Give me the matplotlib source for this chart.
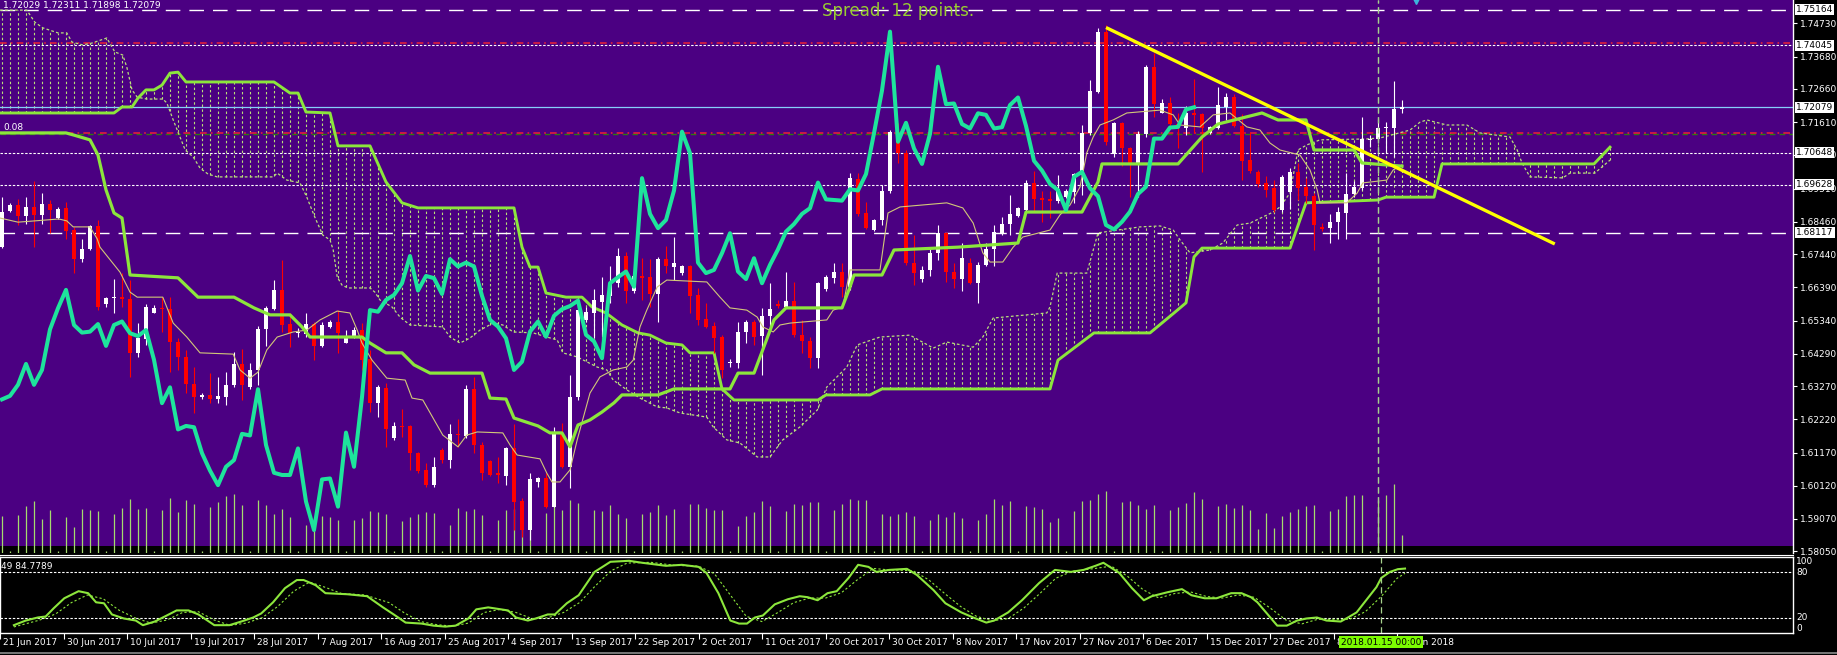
import numpy as np
import matplotlib
matplotlib.use("Agg")
import matplotlib.pyplot as plt
from matplotlib.lines import Line2D
from matplotlib.transforms import blended_transform_factory

# ---- daily bars, index 0 = 30 Jun 2017 (bars -6 .. 169) ----
first_bar = -6
opens = [
    1.6768, 1.6881, 1.6899, 1.6866, 1.6892, 1.6868,
    1.6902, 1.6857, 1.6889, 1.6820, 1.6728, 1.6759,
    1.6833, 1.6586, 1.6604, 1.6610, 1.6601, 1.6433,
    1.6475, 1.6559, 1.6575, 1.6570, 1.6467, 1.6418,
    1.6333, 1.6292, 1.6299, 1.6287, 1.6294, 1.6331,
    1.6397, 1.6323, 1.6378, 1.6506, 1.6570, 1.6631,
    1.6523, 1.6494, 1.6492, 1.6523, 1.6454, 1.6515,
    1.6531, 1.6464, 1.6483, 1.6504, 1.6412, 1.6273,
    1.6320, 1.6162, 1.6201, 1.6201, 1.6114, 1.6062,
    1.6014, 1.6125, 1.6093, 1.6176, 1.6169, 1.6317,
    1.6141, 1.6090, 1.6051, 1.6043, 1.6130, 1.5965,
    1.5872, 1.6025, 1.6035, 1.5946, 1.6180, 1.6071,
    1.6293, 1.6536, 1.6559, 1.6594, 1.6612, 1.6652,
    1.6738, 1.6629, 1.6675, 1.6671, 1.6618, 1.6728,
    1.6702, 1.6684, 1.6707, 1.6614, 1.6538, 1.6517,
    1.6483, 1.6399, 1.6401, 1.6499, 1.6531, 1.6485,
    1.6547, 1.6587, 1.6578, 1.6597, 1.6489, 1.6471,
    1.6415, 1.6633, 1.6668, 1.6689, 1.6641, 1.6981,
    1.6873, 1.6820, 1.6852, 1.6945, 1.7131, 1.7065,
    1.6717, 1.6665, 1.6694, 1.6747, 1.6810, 1.6689,
    1.6665, 1.6717, 1.6652, 1.6710, 1.6759, 1.6812,
    1.6839, 1.6864, 1.6883, 1.6970, 1.6920, 1.6917,
    1.6913, 1.6926, 1.6941, 1.6994, 1.7126, 1.7257,
    1.7447, 1.7060, 1.7157, 1.7078, 1.7029, 1.7124,
    1.7336, 1.7191, 1.7220, 1.7155, 1.7141, 1.7189,
    1.7187, 1.7126, 1.7141, 1.7210, 1.7242, 1.7149,
    1.7041, 1.7005, 1.6970, 1.6952, 1.6883, 1.6941,
    1.7004, 1.6955, 1.6927, 1.6830, 1.6825, 1.6846,
    1.6875, 1.6934, 1.6952, 1.7104, 1.7109, 1.7141,
    1.7144, 1.72029,
]
highs = [
    1.6926, 1.6907, 1.6917, 1.6926, 1.6976, 1.6938,
    1.6915, 1.6892, 1.6910, 1.6831, 1.6791, 1.6836,
    1.6852, 1.6610, 1.6664, 1.6683, 1.6662, 1.6525,
    1.6586, 1.6583, 1.6610, 1.6610, 1.6478, 1.6441,
    1.6388, 1.6306, 1.6367, 1.6355, 1.6373, 1.6436,
    1.6443, 1.6399, 1.6517, 1.6580, 1.6662, 1.6725,
    1.6557, 1.6510, 1.6559, 1.6531, 1.6531, 1.6536,
    1.6568, 1.6504, 1.6515, 1.6525, 1.6441, 1.6331,
    1.6336, 1.6215, 1.6254, 1.6204, 1.6120, 1.6085,
    1.6102, 1.6130, 1.6207, 1.6222, 1.6330, 1.6355,
    1.6151, 1.6093, 1.6104, 1.6136, 1.6207, 1.5972,
    1.6051, 1.6041, 1.6051, 1.6199, 1.6211, 1.6362,
    1.6580, 1.6578, 1.6633, 1.6673, 1.6705, 1.6762,
    1.6752, 1.6684, 1.6731, 1.6728, 1.6734, 1.6770,
    1.6799, 1.6710, 1.6710, 1.6636, 1.6589, 1.6531,
    1.6489, 1.6412, 1.6531, 1.6536, 1.6536, 1.6573,
    1.6652, 1.6599, 1.6689, 1.6657, 1.6536, 1.6483,
    1.6657, 1.6678, 1.6715, 1.6715, 1.7000, 1.7000,
    1.6910, 1.6854, 1.6963, 1.7136, 1.7157, 1.7073,
    1.6805, 1.6705, 1.6759, 1.6836, 1.6815, 1.6715,
    1.6780, 1.6731, 1.6720, 1.6780, 1.6836, 1.6860,
    1.6931, 1.6894, 1.6978, 1.7008, 1.6945, 1.6945,
    1.6994, 1.6949, 1.7001, 1.7152, 1.7294, 1.7457,
    1.7468, 1.7163, 1.7163, 1.7081, 1.7134, 1.7342,
    1.7378, 1.7233, 1.7239, 1.7189, 1.7212, 1.7296,
    1.7191, 1.7149, 1.7271, 1.7252, 1.7250, 1.7187,
    1.7131, 1.7010, 1.6990, 1.6978, 1.6994, 1.7015,
    1.7033, 1.6983, 1.6936, 1.6841, 1.6870, 1.6894,
    1.6999, 1.6976, 1.7178, 1.7120, 1.7170, 1.7162,
    1.7292, 1.72311,
]
lows = [
    1.6762, 1.6878, 1.6836, 1.6839, 1.6766, 1.6839,
    1.6810, 1.6854, 1.6791, 1.6683, 1.6720, 1.6757,
    1.6568, 1.6578, 1.6557, 1.6578, 1.6357, 1.6420,
    1.6457, 1.6557, 1.6499, 1.6373, 1.6378, 1.6304,
    1.6241, 1.6285, 1.6273, 1.6275, 1.6267, 1.6325,
    1.6283, 1.6317, 1.6331, 1.6454, 1.6568, 1.6499,
    1.6452, 1.6481, 1.6483, 1.6410, 1.6452, 1.6510,
    1.6433, 1.6462, 1.6478, 1.6378, 1.6246, 1.6230,
    1.6136, 1.6157, 1.6165, 1.6062, 1.6051, 1.6009,
    1.6009, 1.6085, 1.6067, 1.6136, 1.6162, 1.6114,
    1.6030, 1.6043, 1.6022, 1.6014, 1.5872, 1.5851,
    1.5841, 1.6009, 1.5941, 1.5944, 1.6067, 1.6005,
    1.6283, 1.6531, 1.6478, 1.6483, 1.6589, 1.6641,
    1.6589, 1.6620, 1.6599, 1.6578, 1.6531, 1.6684,
    1.6662, 1.6678, 1.6557, 1.6520, 1.6510, 1.6431,
    1.6352, 1.6386, 1.6383, 1.6462, 1.6457, 1.6362,
    1.6515, 1.6573, 1.6573, 1.6483, 1.6431, 1.6383,
    1.6383, 1.6626, 1.6652, 1.6610, 1.6631, 1.6863,
    1.6823, 1.6818, 1.6836, 1.6938, 1.7031, 1.6710,
    1.6647, 1.6657, 1.6675, 1.6726, 1.6657, 1.6636,
    1.6626, 1.6650, 1.6589, 1.6705, 1.6705, 1.6804,
    1.6804, 1.6862, 1.6881, 1.6878, 1.6847, 1.6857,
    1.6904, 1.6920, 1.6904, 1.6931, 1.7120, 1.7252,
    1.7089, 1.7052, 1.7022, 1.6923, 1.6926, 1.7115,
    1.7178, 1.7189, 1.7145, 1.7078, 1.7120, 1.7126,
    1.7005, 1.7124, 1.7138, 1.7168, 1.7147, 1.6978,
    1.7000, 1.6957, 1.6925, 1.6878, 1.6878, 1.6888,
    1.6915, 1.6904, 1.6757, 1.6818, 1.6778, 1.6793,
    1.6793, 1.6925, 1.6948, 1.7083, 1.7104, 1.7062,
    1.7052, 1.71898,
]
closes = [
    1.6878, 1.6899, 1.6866, 1.6892, 1.6868, 1.6902,
    1.6883, 1.6888, 1.6817, 1.6728, 1.6760, 1.6833,
    1.6578, 1.6604, 1.6610, 1.6601, 1.6433, 1.6478,
    1.6576, 1.6573, 1.6570, 1.6467, 1.6418, 1.6333,
    1.6292, 1.6299, 1.6285, 1.6296, 1.6331, 1.6397,
    1.6331, 1.6378, 1.6506, 1.6573, 1.6631, 1.6520,
    1.6496, 1.6499, 1.6523, 1.6454, 1.6520, 1.6531,
    1.6494, 1.6485, 1.6504, 1.6410, 1.6273, 1.6323,
    1.6190, 1.6201, 1.6197, 1.6115, 1.6060, 1.6014,
    1.6072, 1.6093, 1.6176, 1.6171, 1.6317, 1.6141,
    1.6053, 1.6046, 1.6046, 1.6130, 1.5962, 1.5872,
    1.6032, 1.6035, 1.5946, 1.6180, 1.6072, 1.6292,
    1.6567, 1.6562, 1.6599, 1.6615, 1.6652, 1.6738,
    1.6629, 1.6675, 1.6668, 1.6618, 1.6728, 1.6705,
    1.6717, 1.6705, 1.6612, 1.6536, 1.6515, 1.6478,
    1.6378, 1.6404, 1.6499, 1.6531, 1.6483, 1.6549,
    1.6570, 1.6580, 1.6597, 1.6489, 1.6468, 1.6415,
    1.6652, 1.6671, 1.6689, 1.6641, 1.6984, 1.6871,
    1.6826, 1.6852, 1.6945, 1.7131, 1.7063, 1.6717,
    1.6684, 1.6694, 1.6747, 1.6810, 1.6689, 1.6665,
    1.6731, 1.6652, 1.6710, 1.6759, 1.6815, 1.6839,
    1.6871, 1.6889, 1.6970, 1.6917, 1.6915, 1.6913,
    1.6949, 1.6945, 1.6997, 1.7126, 1.7261, 1.7447,
    1.7099, 1.7159, 1.7078, 1.7029, 1.7124, 1.7336,
    1.7218, 1.7220, 1.7155, 1.7141, 1.7189, 1.7184,
    1.7141, 1.7145, 1.7215, 1.7239, 1.7149, 1.7039,
    1.7008, 1.6966, 1.6946, 1.6883, 1.6988, 1.7004,
    1.6952, 1.6927, 1.6836, 1.6822, 1.6846, 1.6878,
    1.6934, 1.6957, 1.7109, 1.7109, 1.7144, 1.7146,
    1.7201, 1.72079,
]
volumes = [
    37, 2, 38, 47, 52, 34,
    43, 2, 36, 26, 44, 43,
    42, 2, 39, 45, 54, 44,
    45, 2, 43, 55, 41, 53,
    49, 2, 46, 51, 57, 59,
    48, 2, 53, 48, 39, 44,
    36, 2, 28, 35, 37, 36,
    33, 2, 33, 35, 42, 41,
    39, 2, 32, 36, 39, 41,
    40, 2, 28, 45, 42, 44,
    38, 2, 33, 43, 44, 35,
    40, 2, 40, 57, 43, 53,
    50, 2, 43, 42, 48, 39,
    35, 2, 39, 41, 48, 38,
    44, 2, 49, 49, 45, 43,
    43, 2, 27, 37, 41, 52,
    47, 2, 42, 49, 48, 51,
    51, 2, 43, 49, 54, 53,
    53, 2, 39, 37, 39, 41,
    37, 2, 33, 39, 36, 41,
    35, 2, 33, 39, 54, 48,
    52, 2, 47, 46, 44, 31,
    35, 2, 42, 52, 53, 59,
    62, 2, 51, 52, 48, 44,
    48, 2, 43, 46, 50, 61,
    54, 2, 47, 49, 45, 48,
    43, 24, 40, 25, 37, 41,
    44, 47, 48, 2, 42, 44,
    57, 58, 58, 2, 53, 58,
    69, 18,
]

# ---- Ichimoku lines (bar index, price) ----
tenkan_k = [-6.25, -4, -1.9, 1.1, 2.1, 2.9, 5, 5.9, 6.25, 8.75,
            10, 10.9, 14.1, 15.4, 17.1, 18.75, 22.9, 23.75, 25, 26,
            27.1, 28.4, 30.4, 32.1, 33.75, 35.9, 37.5, 38.4, 39, 40.25,
            42.1, 44.4, 45.25, 46.6, 49.1, 51, 52.1, 53.4, 56.6, 57.5,
            58.4, 61.25, 62.1, 62.75, 63.75, 65, 65.9, 67.5, 68.75, 70.4,
            72.1, 72.9, 73.75, 74.6, 75.9, 77.1, 82.1, 83.75, 85, 87.1,
            88.4, 89.1, 90.4, 91.25, 92.5, 97.1, 97.9, 99.1, 100, 103.75,
            104.75, 106.25, 112.1, 114.1, 115.4, 116.6, 117.5, 119.1, 120.4, 121.6,
            125, 126.25, 127.5, 128.75, 129.6, 130.4, 131.25, 132.9, 134.6, 138.75,
            140.4, 141.25, 143.75, 145.4, 147.5, 149.6, 151.25, 152.5, 153.75, 156.25,
            157.5, 158.4, 158.75, 162.1, 163.4, 164.1, 167.1, 167.9, 169]
tenkan_p = [1.6858, 1.6845, 1.6849, 1.6855, 1.6849, 1.6830, 1.6830, 1.6792, 1.6766, 1.6687,
            1.6624, 1.6608, 1.6608, 1.6526, 1.6482, 1.6432, 1.6428, 1.6378, 1.6352, 1.6371,
            1.6441, 1.6482, 1.6498, 1.6504, 1.6536, 1.6564, 1.6558, 1.6504, 1.6463, 1.6409,
            1.6352, 1.6346, 1.6289, 1.6283, 1.6172, 1.6135, 1.6172, 1.6182, 1.6179, 1.6141,
            1.6109, 1.6097, 1.6052, 1.6024, 1.6024, 1.6062, 1.6157, 1.6305, 1.6356, 1.6378,
            1.6387, 1.6409, 1.6514, 1.6567, 1.6640, 1.6662, 1.6656, 1.6608, 1.6574, 1.6567,
            1.6545, 1.6514, 1.6498, 1.6520, 1.6526, 1.6536, 1.6567, 1.6577, 1.6694, 1.6694,
            1.6874, 1.6893, 1.6906, 1.6890, 1.6842, 1.6748, 1.6719, 1.6719, 1.6766, 1.6798,
            1.6820, 1.6868, 1.6899, 1.6956, 1.7064, 1.7114, 1.7152, 1.7168, 1.7190, 1.7199,
            1.7184, 1.7152, 1.7146, 1.7184, 1.7190, 1.7146, 1.7136, 1.7095, 1.7073, 1.7057,
            1.7010, 1.6947, 1.6906, 1.6906, 1.6937, 1.6969, 1.6978, 1.7010, 1.7026]

kijun_k = [-6.25, 2, 3, 5, 6, 7, 8, 9, 10, 16,
           18.5, 23, 25.5, 27.5, 30, 31.5, 32.5, 39, 40, 42,
           44, 45.5, 47.5, 54, 55, 57, 58, 61, 62.5, 64,
           65, 66, 67.5, 69, 70.5, 71.5, 76, 78, 85, 86,
           88, 90.5, 92, 99, 100, 100.5, 104, 105.5, 113.5, 121,
           122, 129, 131, 131.5, 141, 144, 146, 151.5, 153.5, 157,
           158, 163, 164, 169]
kijun_p = [1.7127, 1.7127, 1.7120, 1.7105, 1.7057, 1.6947, 1.6874, 1.6858, 1.6678, 1.6669,
           1.6608, 1.6608, 1.6574, 1.6552, 1.6552, 1.6514, 1.6482, 1.6482, 1.6463, 1.6432,
           1.6432, 1.6394, 1.6368, 1.6368, 1.6289, 1.6286, 1.6226, 1.6201, 1.6179, 1.6179,
           1.6135, 1.6204, 1.6220, 1.6245, 1.6274, 1.6299, 1.6299, 1.6318, 1.6318, 1.6368,
           1.6368, 1.6536, 1.6574, 1.6574, 1.6640, 1.6678, 1.6678, 1.6757, 1.6766, 1.6779,
           1.6877, 1.6877, 1.6972, 1.7029, 1.7029, 1.7114, 1.7155, 1.7190, 1.7168, 1.7168,
           1.7073, 1.7073, 1.7032, 1.7022]

span_a_k = [-6.25, -2.9, -1.9, -0.9, 1, 2.1, 2.75, 4.1, 5.25, 7.1,
            8.1, 9.1, 9.6, 10.25, 10.9, 12.1, 14.1, 14.6, 15.4, 16.25,
            16.9, 17.9, 18.75, 19.75, 20.9, 27.9, 28.4, 29.6, 31.25, 32.1,
            33.1, 34.1, 35, 35.4, 35.9, 36.5, 37.25, 40, 40.6, 41.25,
            42.75, 43.75, 45, 49.1, 50, 51.25, 52.5, 53.75, 55.4, 56.6,
            57.9, 60.4, 62.1, 63.4, 64.1, 65.9, 68.4, 69.6, 70.4, 72.1,
            73.75, 75.9, 77.1, 78.75, 82.1, 82.9, 84.6, 86.25, 88.4, 90,
            91.6, 93.75, 95.9, 97.1, 99.6, 100.9, 103.75, 107.5, 110.4, 112.1,
            115.4, 116.6, 117.9, 124.6, 125, 125.9, 129.6, 131, 136.25, 138.75,
            140.4, 141.25, 142.5, 145, 146.6, 148.4, 150, 152.9, 153.75, 155,
            155.6, 156, 157.1, 158.75, 164.6, 166.25, 170, 171.25, 172.1, 174.6,
            177.1, 178.75, 182.5, 183.4, 184, 185, 189.1, 190, 193.1, 195]
span_a_p = [1.7515, 1.7515, 1.7477, 1.7459, 1.7443, 1.7443, 1.7414, 1.7405, 1.7411, 1.7427,
            1.7383, 1.7373, 1.7335, 1.7263, 1.7240, 1.7234, 1.7234, 1.7222, 1.7168, 1.7114,
            1.7073, 1.7051, 1.7016, 1.6997, 1.6988, 1.6988, 1.7000, 1.6978, 1.6969, 1.6924,
            1.6861, 1.6804, 1.6789, 1.6757, 1.6672, 1.6646, 1.6637, 1.6637, 1.6624, 1.6599,
            1.6577, 1.6545, 1.6520, 1.6514, 1.6482, 1.6463, 1.6479, 1.6504, 1.6526, 1.6520,
            1.6498, 1.6495, 1.6482, 1.6473, 1.6432, 1.6419, 1.6387, 1.6378, 1.6346, 1.6315,
            1.6289, 1.6261, 1.6258, 1.6242, 1.6229, 1.6198, 1.6157, 1.6147, 1.6103, 1.6103,
            1.6157, 1.6198, 1.6251, 1.6324, 1.6387, 1.6457, 1.6482, 1.6488, 1.6447, 1.6466,
            1.6450, 1.6482, 1.6542, 1.6558, 1.6577, 1.6684, 1.6684, 1.6811, 1.6830, 1.6833,
            1.6820, 1.6789, 1.6748, 1.6757, 1.6779, 1.6836, 1.6842, 1.6877, 1.6893, 1.6937,
            1.7019, 1.7073, 1.7089, 1.7105, 1.7108, 1.7111, 1.7136, 1.7161, 1.7168, 1.7152,
            1.7152, 1.7127, 1.7114, 1.7073, 1.7032, 1.6988, 1.6985, 1.7000, 1.7000, 1.7041]

span_b_k = [-6.25, 8, 9, 10.25, 11, 12, 13, 14, 15, 16,
            17, 28, 30, 31, 32, 35, 36, 40, 42, 44,
            46, 58, 59, 60, 61, 62, 64.5, 66.5, 67.75, 69.5,
            71.5, 73.5, 75, 77, 79, 80, 83, 84, 85.5, 96,
            97, 102.5, 104, 125, 126, 130.5, 137.5, 140.5, 142, 143,
            144, 155, 157, 166, 167, 173, 174, 193, 195]
span_b_p = [1.7190, 1.7190, 1.7209, 1.7209, 1.7237, 1.7263, 1.7263, 1.7278, 1.7316, 1.7319,
            1.7288, 1.7288, 1.7253, 1.7253, 1.7193, 1.7190, 1.7086, 1.7086, 1.6972, 1.6906,
            1.6890, 1.6890, 1.6766, 1.6703, 1.6703, 1.6621, 1.6608, 1.6608, 1.6577, 1.6558,
            1.6520, 1.6495, 1.6488, 1.6463, 1.6457, 1.6432, 1.6432, 1.6318, 1.6283, 1.6283,
            1.6299, 1.6299, 1.6318, 1.6318, 1.6409, 1.6495, 1.6495, 1.6558, 1.6590, 1.6735,
            1.6763, 1.6763, 1.6906, 1.6915, 1.6924, 1.6924, 1.7029, 1.7029, 1.7082]
CHIKOU_SHIFT = 26

# ---- stochastic sub window ----
stoch_k = [-6.25, -4.75, -3.25, -2.25, -1.25, 0.1, 1.9, 3.1, 4.1, 5.1,
           6.1, 7.6, 9.1, 10, 11.5, 13, 14.25, 15.75, 17, 19,
           20.9, 22.4, 23.9, 24.9, 26.4, 27.9, 29.4, 30.25, 31.75, 33,
           35.75, 38.25, 40.25, 41.6, 43.1, 45.1, 46.6, 48.1, 49.4, 51,
           52, 53.5, 56, 57, 58.5, 59.5, 61, 61.9, 63.4, 64.9,
           66.9, 67.9, 68.9, 71.25, 72.9, 75.9, 77.9, 80, 81, 82.5,
           84, 85.1, 86.1, 87.1, 88.1, 89.6, 91.25, 92.75, 93.75, 95,
           96.25, 97.4, 98.9, 100.1, 101.4, 102.4, 104, 106.25, 107.5, 109.6,
           111.1, 113.1, 114.6, 116.25, 117.25, 119, 120.75, 122.9, 124.9, 126.9,
           128.5, 130, 131, 133, 134.6, 136.1, 137.1, 139.1, 140.9, 142.1,
           143.75, 145.25, 147.1, 148.4, 149.6, 150.4, 151.6, 152.9, 154.1, 155.4,
           156.6, 157.9, 159.1, 160.9, 161.6, 162.9, 164.1, 165.4, 166, 167.1,
           168.1, 169]
stoch_main = [10.3, 16.4, 20.4, 21.7, 32.4, 45.7, 55, 52.4, 40.4, 39.1,
              24.4, 19.1, 16.4, 10.3, 15.1, 23, 29.7, 29.7, 24.4, 10.3,
              10.3, 15.1, 20.4, 25.7, 40.4, 59, 69.7, 69.7, 63, 52.4,
              51, 48.4, 33.7, 24.4, 13.7, 12.4, 9.7, 8.4, 9.7, 19.1,
              31.1, 33.7, 29.7, 20.4, 16.4, 19.1, 24.4, 24.4, 39.1, 49.7,
              80.4, 87, 93.7, 95, 92.4, 88.4, 89.7, 87, 79, 52.4,
              16.4, 12.4, 12.4, 20.4, 23, 37.7, 44.4, 48.4, 47.1, 43.1,
              52.4, 55, 72.4, 89.7, 87, 80.4, 83, 84.4, 76.4, 56.4,
              39.1, 27.1, 20.4, 13.7, 16.4, 27.1, 43.1, 65.7, 83, 80.4,
              83, 88.4, 92.4, 79, 59, 43.1, 48.4, 53.7, 57.7, 49.7,
              45.7, 45.7, 52.4, 52.4, 47.1, 40.4, 25.7, 9.7, 9.7, 16.4,
              19.1, 20.4, 16.4, 15.1, 19.1, 27.1, 43.1, 60.4, 72.4, 80.4,
              84, 84.78]
signal_k = [-6.25, -3, -1, 1, 3, 5, 7, 9, 11, 13,
            15, 17, 19, 21, 23, 25, 27, 29, 31, 33,
            35, 38, 41, 43, 45, 47, 49, 51, 53, 55,
            57, 59, 61, 63, 65, 67, 69, 71, 74, 77,
            80, 82, 84, 86, 88, 90, 92, 94, 96, 98,
            100, 102, 104, 107, 109, 111, 113, 115, 117, 119,
            121, 123, 125, 127, 130, 132, 134, 136, 138, 140,
            142, 144, 146, 148, 150, 152, 154, 156, 158, 160,
            162, 164, 166, 168, 169]
stoch_signal = [8, 17, 25, 40, 50, 45, 30, 20, 13, 17,
                27, 28, 17, 10, 13, 20, 35, 55, 67, 60,
                52, 50, 40, 26, 15, 11, 9, 13, 27, 31,
                27, 19, 20, 27, 40, 62, 82, 92, 93, 89,
                88, 78, 50, 22, 15, 27, 40, 46, 46, 53,
                70, 85, 83, 82, 70, 52, 35, 22, 16, 19,
                33, 52, 72, 81, 85, 88, 75, 57, 46, 52,
                54, 48, 46, 50, 47, 33, 17, 12, 18, 18,
                18, 28, 48, 72, 78.6]

# ---- axis labels and drawn objects ----
date_k = [-8, 0, 8, 16, 24, 32, 40, 48, 56, 64, 72, 80, 88, 96, 104, 112,
          120, 128, 136, 144, 152, 160, 168]
date_labels = ["21 Jun 2017", "30 Jun 2017", "10 Jul 2017", "19 Jul 2017",
               "28 Jul 2017", "7 Aug 2017", "16 Aug 2017", "25 Aug 2017",
               "4 Sep 2017", "13 Sep 2017", "22 Sep 2017", "2 Oct 2017",
               "11 Oct 2017", "20 Oct 2017", "30 Oct 2017", "8 Nov 2017",
               "17 Nov 2017", "27 Nov 2017", "6 Dec 2017", "15 Dec 2017",
               "27 Dec 2017", "8 Jan 2018", "17 Jan 2018"]
price_ticks = [1.74730, 1.73680, 1.72660, 1.71610, 1.70580, 1.69510, 1.68460,
               1.67440, 1.66390, 1.65340, 1.64290, 1.63270, 1.62220, 1.61170,
               1.60120, 1.59070, 1.58050]
marked_prices = [1.75164, 1.74045, 1.72079, 1.70648, 1.69628, 1.68117]
cursor_bar = 166
cursor_label = "2018.01.15 00:00"
trend_k = [132, 188.1]
trend_p = [1.7460, 1.6776]
last_ohlc = "1.72029 1.72311 1.71898 1.72079"

PURPLE = "#4b0082"
LIME = "#8ce63c"
CLOUD = "#b9e07a"
AQUA = "#1ee49c"
TENKAN = "#d2c878"
VOLC = "#a5dc6e"
W, H = 1837, 655


def box(x0, y0, x1, y1):
    return [x0 / W, 1 - y1 / H, (x1 - x0) / W, (y1 - y0) / H]


bars = np.arange(first_bar, first_bar + len(closes))
o = np.array(opens)
h = np.array(highs)
l = np.array(lows)
c = np.array(closes)

x_lim = (-6.25, 217.875)
p_lim = (1.57995, 1.7547)

fig = plt.figure(figsize=(W / 100, H / 100), dpi=100, facecolor="black")

# volume layer sits under the price layer and carries the purple background
ax_vol = fig.add_axes(box(0, 0, 1793, 553), facecolor=PURPLE)
ax_vol.set_xlim(x_lim)
ax_vol.set_ylim(0, 553)
ax_vol.set_xticks([])
ax_vol.set_yticks([])
for s in ax_vol.spines.values():
    s.set_visible(False)
ax_vol.axhspan(0, 7, color="black", lw=0, zorder=0.5)
ax_vol.vlines(bars, 0, volumes, colors=VOLC, lw=0.9, zorder=1)
ax_vol.axvline(cursor_bar, color="#a6d28c", lw=0.9, ls=(0, (5, 3)))

ax = fig.add_axes(box(0, 0, 1793, 553), facecolor="none")
ax.set_xlim(x_lim)
ax.set_ylim(p_lim)

# cloud hatching between the two spans, one dashed stroke per bar
cloud_k = np.arange(first_bar, 196)
sa = np.interp(cloud_k, span_a_k, span_a_p)
sb = np.interp(cloud_k, span_b_k, span_b_p)
ax.vlines(cloud_k, np.minimum(sa, sb), np.maximum(sa, sb), colors=CLOUD,
          linestyles=(0, (2.2, 2.2)), lw=0.8, zorder=1)
ax.plot(span_a_k, span_a_p, color=CLOUD, lw=0.9, ls=(0, (2.2, 1.8)), zorder=2)
ax.plot(span_b_k, span_b_p, color=LIME, lw=2.1, zorder=2)

# horizontal levels
ax.axhline(1.75164, color="white", lw=1, ls=(0, (10.5, 6.5)), zorder=1.5)
ax.axhline(1.74121, color="#e0203c", lw=1.2, ls=(0, (4, 2.5, 1, 2.5)), zorder=1.5)
ax.axhline(1.74045, color="white", lw=0.8, ls=(0, (2.2, 1.5)), zorder=1.5)
ax.axhline(1.72079, color="#87cefa", lw=0.9, zorder=1.5)
ax.axhline(1.71245, color="#2f7a10", lw=1.0, ls=(0, (4, 3)), zorder=1.5)
ax.axhline(1.71277, color="#e0203c", lw=1.2, ls=(0, (4, 2.5, 1, 2.5)), zorder=1.5)
ax.axhline(1.70648, color="white", lw=0.8, ls=(0, (2.2, 1.5)), zorder=1.5)
ax.axhline(1.69628, color="white", lw=0.8, ls=(0, (2.2, 1.5)), zorder=1.5)
ax.axhline(1.68117, color="white", lw=1, ls=(0, (10.5, 6.5)), zorder=1.5)

# candles
up = c >= o
col = np.where(up, "white", "#ff0000")
ax.vlines(bars, l, h, colors=col, lw=0.8, zorder=3)
ax.bar(bars, np.maximum(np.abs(c - o), 0.00005), bottom=np.minimum(o, c),
       width=0.62, color=col, linewidth=0, zorder=3)

ax.plot(tenkan_k, tenkan_p, color=TENKAN, lw=0.8, zorder=4)
ax.plot(kijun_k, kijun_p, color=LIME, lw=2.3, zorder=4)
ax.plot(bars[:-CHIKOU_SHIFT], c[CHIKOU_SHIFT:], color=AQUA, lw=2.9, zorder=4)
ax.plot(trend_k, trend_p, color="#ffff00", lw=2.4, solid_capstyle="butt", zorder=6)
ax.axvline(cursor_bar, color="#a6d28c", lw=0.9, ls=(0, (5, 3)), zorder=5)
ax.plot([170.75], [p_lim[1]], marker="v", color="#3cb4dc", ms=6, zorder=6)

# price scale on the right
for s in ["left", "top", "bottom"]:
    ax.spines[s].set_visible(False)
ax.spines["right"].set_color("white")
ax.spines["right"].set_linewidth(1)
ax.set_xticks([])
ax.yaxis.tick_right()
ax.set_yticks(price_ticks)
ax.set_yticklabels([f"{v:.5f}" for v in price_ticks])
ax.tick_params(axis="y", colors="white", labelsize=6.5, length=3, width=0.8, pad=2)
tr = blended_transform_factory(ax.transAxes, ax.transData)
for p in marked_prices:
    ax.text(1.0017, p, f"{p:.5f}", transform=tr, ha="left", va="center",
            fontsize=6.5, color="black", clip_on=False, zorder=7,
            bbox=dict(boxstyle="square,pad=0.12", fc="white", ec="none"))

ax.text(3 / 1793, 1 - 6 / 553, last_ohlc, transform=ax.transAxes, color="white",
        fontsize=6.5, ha="left", va="center")
ax.text(3 / 1793, 1 - 128 / 553, "0.08", transform=ax.transAxes, color="white",
        fontsize=6.5, ha="left", va="center")
ax.text(898 / 1793, 1 - 11 / 553, "Spread: 12 points.", transform=ax.transAxes,
        color="#9acd32", fontsize=12, ha="center", va="center", zorder=7)

# stochastic window
ax_st = fig.add_axes(box(0, 557, 1793, 633), facecolor="black")
ax_st.set_xlim(x_lim)
ax_st.set_ylim(0, 100)
for s in ax_st.spines.values():
    s.set_color("white")
    s.set_linewidth(1)
ax_st.axhline(80, color="white", lw=0.8, ls=(0, (2.2, 1.5)))
ax_st.axhline(20, color="white", lw=0.8, ls=(0, (2.2, 1.5)))
ax_st.plot(signal_k, stoch_signal, color=LIME, lw=0.8, ls=(0, (2, 2)))
ax_st.plot(stoch_k, stoch_main, color=LIME, lw=1.5)
ax_st.axvline(cursor_bar, color="#a6d28c", lw=0.9, ls=(0, (5, 3)))
ax_st.set_yticks([])
ax_st.set_xticks(date_k)
ax_st.tick_params(axis="x", colors="white", length=4, width=0.8,
                  direction="out", labelbottom=False)
trs = blended_transform_factory(ax_st.transAxes, ax_st.transData)
ax_st.text(1.0017, 100, "100", transform=trs, color="white", fontsize=6.5,
           ha="left", va="top", clip_on=False)
ax_st.text(1.0017, 80, "80", transform=trs, color="white", fontsize=6.5,
           ha="left", va="center", clip_on=False)
ax_st.text(1.0017, 20, "20", transform=trs, color="white", fontsize=6.5,
           ha="left", va="center", clip_on=False)
ax_st.text(1.0017, 0, "0", transform=trs, color="white", fontsize=6.5,
           ha="left", va="bottom", clip_on=False)
ax_st.text(0.0005, 0.88, "49 84.7789", transform=ax_st.transAxes, color="white",
           fontsize=6.5, ha="left", va="center")

trd = blended_transform_factory(ax_st.transData, ax_st.transAxes)
for k, lbl in zip(date_k, date_labels):
    ax_st.text(k + 0.4, -0.12, lbl, transform=trd, color="white", fontsize=6.5,
               ha="left", va="center", clip_on=False)
ax_st.text(cursor_bar, -0.12, cursor_label, transform=trd, color="black",
           fontsize=6.5, ha="center", va="center", clip_on=False, zorder=7,
           bbox=dict(boxstyle="square,pad=0.2", fc="#7cfc00", ec="none"))

fig.add_artist(Line2D([0, 1793 / W], [1 - 554.5 / H] * 2, color="white", lw=0.8))
fig.add_artist(Line2D([0, 1], [1 - 653 / H] * 2, color="#8c8c8c", lw=1.2))

fig.savefig("out.png", dpi=100, facecolor="black")
